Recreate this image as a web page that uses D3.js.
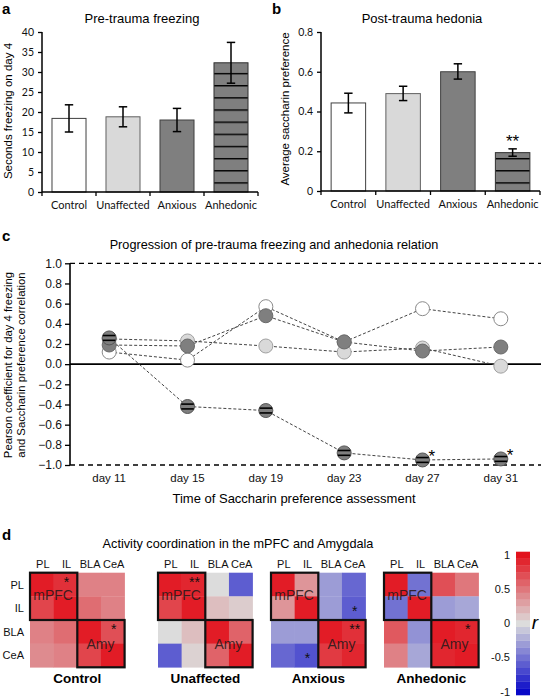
<!DOCTYPE html>
<html><head><meta charset="utf-8">
<script src="https://cdn.jsdelivr.net/npm/d3@7"></script>
<style>body{margin:0;background:#fff}svg{display:block}</style>
</head><body>
<script>
// ---------- DATA ----------
const groups = ["Control", "Unaffected", "Anxious", "Anhedonic"];
const freezeMean = [18.4, 18.8, 18.0, 32.3];
const freezeLo = [15.0, 16.3, 15.1, 27.2];
const freezeHi = [21.8, 21.3, 20.9, 37.4];
const freezeTicks = [0, 5, 10, 15, 20, 25, 30, 35, 40];
const hedMean = [0.443, 0.490, 0.600, 0.193];
const hedLo = [0.393, 0.455, 0.563, 0.175];
const hedHi = [0.492, 0.527, 0.640, 0.212];
const hedTicks = [0, 0.2, 0.4, 0.6, 0.8];
const hedStars = ["", "", "", "**"];
const days = ["day 11", "day 15", "day 19", "day 23", "day 27", "day 31"];
const corrControl = [0.12, 0.04, 0.57, 0.22, 0.55, 0.45];
const corrUnaffected = [0.25, 0.23, 0.18, 0.12, 0.16, -0.02];
const corrAnxious = [0.19, 0.18, 0.48, 0.22, 0.13, 0.17];
const corrAnhedonic = [0.26, -0.42, -0.46, -0.88, -0.95, -0.94];
const corrAnhedonicStars = ["", "", "", "", "*", "*"];
const corrTicks = [-1, -0.8, -0.6, -0.4, -0.2, 0, 0.2, 0.4, 0.6, 0.8, 1];
const regions = ["PL", "IL", "BLA", "CeA"];
const matControl = [[0.95, 0.85, 0.45, 0.45], [0.75, 0.95, 0.55, 0.45], [0.45, 0.55, 0.95, 0.7], [0.4, 0.45, 0.75, 0.95]];
const matUnaffected = [[0.95, 0.9, 0.0, -0.6], [0.75, 0.95, 0.15, 0.08], [0.0, 0.15, 0.95, 0.6], [-0.6, 0.05, 0.6, 0.95]];
const matAnxious = [[0.95, 0.35, -0.3, -0.55], [0.35, 0.95, -0.3, -0.6], [-0.3, -0.3, 0.95, 0.85], [-0.55, -0.65, 0.8, 0.9]];
const matAnhedonic = [[0.95, -0.5, 0.7, 0.5], [-0.5, 0.95, -0.3, -0.25], [0.65, -0.35, 0.95, 0.9], [0.45, -0.25, 0.9, 0.95]];
const starsControl = [[0, 1, "*"], [2, 3, "*"]];
const starsUnaffected = [[0, 1, "**"]];
const starsAnxious = [[1, 3, "*"], [2, 3, "**"], [3, 1, "*"]];
const starsAnhedonic = [[2, 3, "*"]];
const colorbarTicks = [1, 0.5, 0, -0.5, -1];

// ---------- STYLE ----------
const groupFill = ["#ffffff", "#d9d9d9", "#7f7f7f", "url(#stripes)"];
const groupStroke = ["#404040", "#606060", "#404040", "#303030"];
const dotFill = ["#ffffff", "#d9d9d9", "#7f7f7f", "#7f7f7f"];
const dotStroke = ["#8a8a8a", "#a0a0a0", "#6a6a6a", "#555"];
const AR = "'Liberation Sans', Arial, sans-serif";
const CAL = "Lato, 'Liberation Sans', sans-serif";

const svg = d3.select("body").append("svg").attr("width", 543).attr("height", 697);
const defs = svg.append("defs");
const pat = defs.append("pattern").attr("id", "stripes").attr("patternUnits", "userSpaceOnUse")
  .attr("width", 10).attr("height", 12.15);
pat.append("rect").attr("width", 10).attr("height", 12.15).attr("fill", "#7f7f7f");
pat.append("line").attr("x1", 0).attr("x2", 10).attr("y1", 0.6).attr("y2", 0.6).attr("stroke", "#000").attr("stroke-width", 1.6);

function panelLabel(t, x, y) {
  svg.append("text").attr("x", x).attr("y", y).text(t).attr("font-family", AR).attr("font-weight", "bold").attr("font-size", 15);
}

// ---------- BAR PANELS ----------
function barPanel(opt) {
  const g = svg.append("g");
  const x = d3.scaleBand().domain(groups).range([opt.x0, opt.x1]).paddingInner(0.37).paddingOuter(0.185);
  const y = d3.scaleLinear().domain(opt.domain).range([opt.yb, opt.yt]);
  g.selectAll("rect.bar").data(groups).join("rect")
    .attr("x", d => x(d)).attr("width", x.bandwidth())
    .attr("y", (d, i) => y(opt.mean[i])).attr("height", (d, i) => y(0) - y(opt.mean[i]))
    .attr("fill", (d, i) => groupFill[i]).attr("stroke", (d, i) => groupStroke[i]).attr("stroke-width", 1);
  groups.forEach((d, i) => {
    const cx = x(d) + x.bandwidth() / 2;
    g.append("line").attr("x1", cx).attr("x2", cx).attr("y1", y(opt.lo[i])).attr("y2", y(opt.hi[i])).attr("stroke", "#000").attr("stroke-width", 1.5);
    [opt.lo[i], opt.hi[i]].forEach(v => g.append("line").attr("x1", cx - 4.2).attr("x2", cx + 4.2).attr("y1", y(v)).attr("y2", y(v)).attr("stroke", "#000").attr("stroke-width", 1.5));
    if (opt.stars && opt.stars[i]) {
      g.append("text").attr("x", cx).attr("y", y(opt.hi[i]) - 2).attr("text-anchor", "middle")
        .attr("font-family", AR).attr("font-size", 17).text(opt.stars[i]);
    }
  });
  const ya = g.append("g").attr("transform", `translate(${opt.x0},0)`)
    .call(d3.axisLeft(y).tickValues(opt.ticks).tickSize(4).tickPadding(4).tickFormat(opt.fmt));
  ya.select(".domain").attr("stroke-width", 1.5).attr("d", `M-0,${opt.yt}V${opt.yb}`);
  ya.selectAll(".tick line").attr("stroke-width", 1.3);
  ya.selectAll("text").attr("font-family", CAL).attr("font-size", 10.5).attr("fill", "#111");
  g.append("line").attr("x1", opt.x0).attr("x2", opt.x1).attr("y1", y(0)).attr("y2", y(0)).attr("stroke", "#000").attr("stroke-width", 1.5);
  const bounds = groups.map(d => x(d) - x.step() * 0.185).concat([opt.x1]);
  g.selectAll("line.xt").data(bounds).join("line").attr("x1", d => d).attr("x2", d => d)
    .attr("y1", y(0)).attr("y2", y(0) + 4).attr("stroke", "#000").attr("stroke-width", 1.3);
  g.selectAll("text.cat").data(groups).join("text")
    .attr("x", d => x(d) + x.bandwidth() / 2).attr("y", y(0) + 17).attr("text-anchor", "middle")
    .attr("font-family", CAL).attr("font-size", 11).attr("fill", "#111").text(d => d);
  g.append("text").attr("x", opt.tx).attr("y", 23).attr("text-anchor", "middle").attr("font-family", AR).attr("font-size", 13).text(opt.title);
  g.append("text").attr("transform", `translate(${opt.lx},${opt.ly}) rotate(-90)`).attr("text-anchor", "middle")
    .attr("font-family", AR).attr("font-size", 11.5).text(opt.ylabel);
}
barPanel({x0: 42, x1: 258, yb: 192, yt: 32, domain: [0, 40], mean: freezeMean, lo: freezeLo, hi: freezeHi,
  ticks: freezeTicks, fmt: d3.format("d"), title: "Pre-trauma freezing", tx: 142, ylabel: "Seconds freezing on day 4", lx: 12, ly: 111});
barPanel({x0: 321, x1: 540, yb: 191, yt: 32, domain: [0, 0.8], mean: hedMean, lo: hedLo, hi: hedHi, stars: hedStars,
  ticks: hedTicks, fmt: d => d === 0 ? "0" : d3.format(".1f")(d), title: "Post-trauma hedonia", tx: 422, ylabel: "Average saccharin preference", lx: 289, ly: 109});
panelLabel("a", 2, 14);
panelLabel("b", 272, 14);

// ---------- PANEL C ----------
{
  const g = svg.append("g");
  const x = d3.scalePoint().domain(days).range([70, 540]).padding(0.5);
  const y = d3.scaleLinear().domain([-1, 1]).range([465, 263.3]);
  [1, -1].forEach(v => g.append("line").attr("x1", 70).attr("x2", 541).attr("y1", y(v)).attr("y2", y(v))
    .attr("stroke", "#000").attr("stroke-width", 1.3).attr("stroke-dasharray", "5,4"));
  g.append("line").attr("x1", 70).attr("x2", 541).attr("y1", y(0)).attr("y2", y(0)).attr("stroke", "#000").attr("stroke-width", 1.6);
  const ya = g.append("g").attr("transform", "translate(70,0)")
    .call(d3.axisLeft(y).tickValues(corrTicks).tickSize(5).tickPadding(3).tickFormat(d3.format(".1f")));
  ya.select(".domain").attr("stroke-width", 1.6).attr("d", `M0,${y(1)}V${y(-1)}`);
  ya.selectAll(".tick line").attr("stroke-width", 1.3);
  ya.selectAll("text").attr("font-family", AR).attr("font-size", 12).attr("fill", "#111");
  g.selectAll("text.day").data(days).join("text").attr("x", d => x(d)).attr("y", 482)
    .attr("text-anchor", "middle").attr("font-family", AR).attr("font-size", 11.5).attr("fill", "#111").text(d => d);
  const series = [corrControl, corrUnaffected, corrAnxious, corrAnhedonic];
  const line = d3.line().x((d, i) => x(days[i])).y(d => y(d));
  series.forEach(s => g.append("path").attr("d", line(s)).attr("fill", "none").attr("stroke", "#444")
    .attr("stroke-width", 1).attr("stroke-dasharray", "3,2"));
  const r = 7;
  series.forEach((s, k) => {
    s.forEach((v, i) => {
      const cx = x(days[i]), cy = y(v);
      g.append("circle").attr("cx", cx).attr("cy", cy).attr("r", r).attr("fill", dotFill[k]).attr("stroke", dotStroke[k]).attr("stroke-width", 1);
      if (k === 3) {
        [-2.4, 2.4].forEach(dy => {
          const hw = Math.sqrt(r * r - dy * dy) - 0.3;
          g.append("line").attr("x1", cx - hw).attr("x2", cx + hw).attr("y1", cy + dy).attr("y2", cy + dy).attr("stroke", "#000").attr("stroke-width", 1.6);
        });
        if (corrAnhedonicStars[i]) g.append("text").attr("x", cx + 6).attr("y", cy + 2).attr("font-family", AR).attr("font-size", 17).text(corrAnhedonicStars[i]);
      }
    });
  });
  g.append("text").attr("x", 274).attr("y", 249).attr("text-anchor", "middle").attr("font-family", AR).attr("font-size", 12.7)
    .text("Progression of pre-trauma freezing and anhedonia relation");
  g.append("text").attr("x", 294).attr("y", 503).attr("text-anchor", "middle").attr("font-family", AR).attr("font-size", 13)
    .text("Time of Saccharin preference assessment");
  const yl = g.append("text").attr("transform", "translate(0,365) rotate(-90)").attr("text-anchor", "middle").attr("font-family", AR).attr("font-size", 11.3);
  yl.append("tspan").attr("x", 0).attr("y", 12).text("Pearson coefficient for day 4 freezing");
  yl.append("tspan").attr("x", 0).attr("y", 25).text("and Saccharin preference correlation");
  panelLabel("c", 2, 241);
}

// ---------- PANEL D ----------
{
  const g = svg.append("g");
  const color = v => v >= 0 ? d3.interpolateRgb("#dcdcdc", "#e2121c")(v) : d3.interpolateRgb("#dcdcdc", "#0808c8")(-v);
  const cell = d3.scaleBand().domain(regions).range([0, 94.6]);
  const cw = cell.bandwidth();
  const mats = [matControl, matUnaffected, matAnxious, matAnhedonic];
  const stars = [starsControl, starsUnaffected, starsAnxious, starsAnhedonic];
  const gx = [30, 158, 271, 384];
  const top = 572.7;
  mats.forEach((m, k) => {
    const h = g.append("g").attr("transform", `translate(${gx[k]},${top})`);
    m.forEach((row, i) => row.forEach((v, j) => {
      h.append("rect").attr("x", cell(regions[j])).attr("y", cell(regions[i])).attr("width", cw + 0.3).attr("height", cw + 0.3).attr("fill", color(v));
    }));
    [[0, "mPFC"], [2, "Amy"]].forEach(([b, lab]) => {
      h.append("rect").attr("x", cell(regions[b])).attr("y", cell(regions[b])).attr("width", 2 * cw).attr("height", 2 * cw)
        .attr("fill", "none").attr("stroke", "#111").attr("stroke-width", 2.2);
      h.append("text").attr("x", cell(regions[b]) + cw - 0.5).attr("y", cell(regions[b]) + cw + (b === 0 ? 4 : 5))
        .attr("text-anchor", "middle").attr("font-family", AR).attr("font-size", 14).attr("fill", "#2a1a1a").attr("fill-opacity", 0.9).text(lab);
    });
    stars[k].forEach(([i, j, s]) => {
      const inBlock = (i < 2) === (j < 2);
      const cy = cell(regions[i]) + cw / 2 + (inBlock ? 2.5 : 7.5);
      h.append("text").attr("x", cell(regions[j]) + cw / 2 + 1).attr("y", cy).attr("text-anchor", "middle")
        .attr("font-family", AR).attr("font-size", 14).attr("fill", "#111").text(s);
    });
    h.selectAll("text.col").data(regions).join("text").attr("x", d => cell(d) + cw / 2 + 1).attr("y", -5)
      .attr("text-anchor", "middle").attr("font-family", AR).attr("font-size", 11).attr("fill", "#111").text(d => d);
    if (k === 0) {
      h.selectAll("text.row").data(regions).join("text").attr("x", -6).attr("y", d => cell(d) + cw / 2 + 4)
        .attr("text-anchor", "end").attr("font-family", AR).attr("font-size", 11).attr("fill", "#111").text(d => d);
    }
    h.append("text").attr("x", 94.6 / 2).attr("y", 110.5).attr("text-anchor", "middle").attr("font-family", AR)
      .attr("font-weight", "bold").attr("font-size", 13.5).text(groups[k]);
  });
  g.append("text").attr("x", 238).attr("y", 548).attr("text-anchor", "middle").attr("font-family", AR).attr("font-size", 12.7)
    .text("Activity coordination in the mPFC and Amygdala");
  const cy = d3.scaleLinear().domain([-1.05, 1.05]).range([695, 551.7]);
  const steps = d3.range(-10, 11).map(d => d / 10);
  g.selectAll("rect.cb").data(steps).join("rect").attr("x", 516).attr("width", 14)
    .attr("y", d => cy(d + 0.05)).attr("height", d => cy(d - 0.05) - cy(d + 0.05) + 0.3).attr("fill", d => color(d));
  g.selectAll("text.cbt").data(colorbarTicks).join("text").attr("x", 510).attr("y", d => cy(d) + 4)
    .attr("text-anchor", "end").attr("font-family", AR).attr("font-size", 11).attr("fill", "#111").text(d => d);
  g.append("text").attr("x", 535).attr("y", 629).attr("text-anchor", "middle").attr("font-family", AR)
    .attr("font-style", "italic").attr("font-size", 19).text("r");
  panelLabel("d", 2, 540);
}
</script>
</body></html>
